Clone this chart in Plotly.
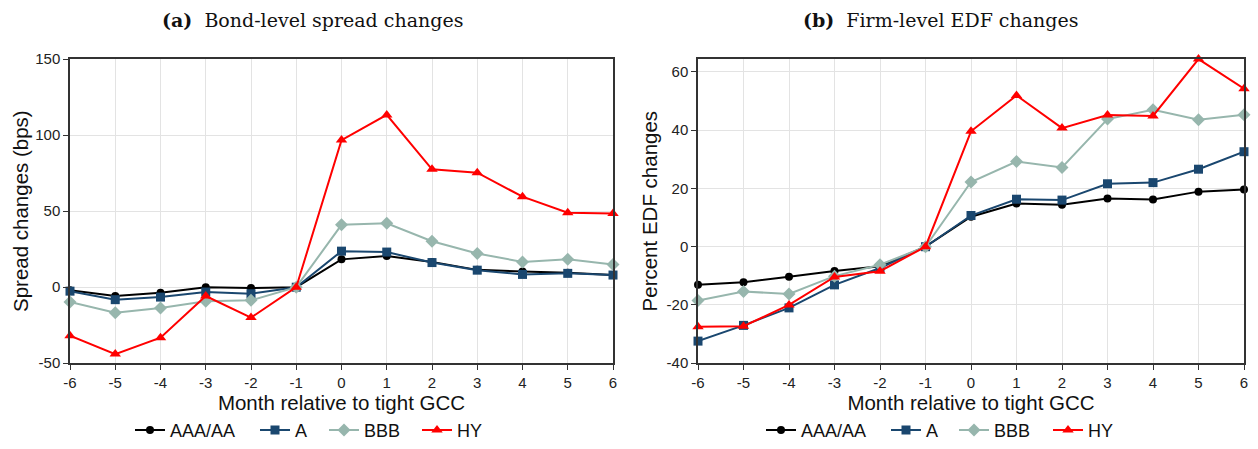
import plotly.graph_objects as go

months = [-6, -5, -4, -3, -2, -1, 0, 1, 2, 3, 4, 5, 6]
month_labels = ["-6", "-5", "-4", "-3", "-2", "-1", "0", "1", "2", "3", "4", "5", "6"]

series_names = ["AAA/AA", "A", "BBB", "HY"]

# Panel (a): bond-level spread changes (bps)
spread_aaa = [-2.0, -5.8, -3.7, 0.0, -0.6, 0.0, 18.3, 20.5, 16.6, 11.4, 10.4, 9.5, 8.0]
spread_a = [-2.6, -8.2, -6.5, -3.2, -4.3, 0.0, 23.7, 23.1, 16.2, 11.2, 8.4, 9.1, 8.0]
spread_bbb = [-9.7, -16.8, -13.6, -9.3, -8.6, 0.0, 41.0, 42.0, 30.2, 22.2, 16.6, 18.3, 14.9]
spread_hy = [-31.9, -44.0, -33.2, -5.8, -20.0, 0.0, 96.7, 113.3, 77.5, 75.3, 59.5, 49.0, 48.5]

# Panel (b): firm-level percent EDF changes
edf_aaa = [-13.1, -12.2, -10.3, -8.3, -6.7, 0.0, 10.3, 14.8, 14.4, 16.5, 16.2, 18.9, 19.6]
edf_a = [-32.4, -27.0, -21.0, -13.1, -7.3, 0.0, 10.7, 16.3, 16.0, 21.6, 22.0, 26.6, 32.6]
edf_bbb = [-18.5, -15.4, -16.2, -10.1, -6.2, 0.0, 22.2, 29.2, 27.2, 43.8, 47.0, 43.6, 45.3]
edf_hy = [-27.5, -27.3, -20.0, -10.4, -8.4, 0.0, 39.6, 51.9, 40.7, 45.2, 44.9, 64.4, 54.2]

spread_ticks = [-50, 0, 50, 100, 150]
spread_tick_labels = ["-50", "0", "50", "100", "150"]
edf_ticks = [-40, -20, 0, 20, 40, 60]
edf_tick_labels = ["-40", "-20", "0", "20", "40", "60"]

colors = ["#000000", "#1a476f", "#97b6ad", "#ff0000"]
symbols = ["circle", "square", "diamond", "triangle-up"]
sizes = [8, 9, 10, 10]

W, H = 1258, 449

# legend entry positions (left edge of the legend line, px)
left_legend_px = [136, 261, 330, 423]
right_legend_px = [767, 892, 960, 1054]

fig = go.Figure()

left_data = [spread_aaa, spread_a, spread_bbb, spread_hy]
right_data = [edf_aaa, edf_a, edf_bbb, edf_hy]

legend_font = dict(family="Liberation Sans, Arial, sans-serif", size=18, color="#111111")
legends = {}
for i, name in enumerate(series_names):
    key_l = "legend" if i == 0 else f"legend{i + 1}"
    fig.add_trace(go.Scatter(
        x=months, y=left_data[i], name=name, mode="lines+markers",
        line=dict(color=colors[i], width=2),
        marker=dict(symbol=symbols[i], size=sizes[i], color=colors[i]),
        xaxis="x", yaxis="y", legend=key_l, cliponaxis=False,
    ))
    legends[key_l] = dict(x=(left_legend_px[i] - 6) / W, xanchor="left",
                          y=12 / H, yanchor="middle",
                          font=legend_font, bgcolor="rgba(0,0,0,0)", borderwidth=0)
for i, name in enumerate(series_names):
    key_r = f"legend{i + 5}"
    fig.add_trace(go.Scatter(
        x=months, y=right_data[i], name=name, mode="lines+markers",
        line=dict(color=colors[i], width=2),
        marker=dict(symbol=symbols[i], size=sizes[i], color=colors[i]),
        xaxis="x2", yaxis="y2", legend=key_r, cliponaxis=False,
    ))
    legends[key_r] = dict(x=(right_legend_px[i] - 6) / W, xanchor="left",
                          y=12 / H, yanchor="middle",
                          font=legend_font, bgcolor="rgba(0,0,0,0)", borderwidth=0)

y_dom = [1 - 369 / H, 1 - 60 / H]

axis_font = dict(family="Liberation Sans, Arial, sans-serif", size=15, color="#222222")
title_font = dict(family="Liberation Sans, Arial, sans-serif", size=20.5, color="#111111")

common_x = dict(
    tickvals=months, ticktext=month_labels, range=[-6, 6],
    showgrid=True, gridcolor="#e3e3e3", gridwidth=1,
    showline=True, linecolor="#333333", linewidth=1.5, mirror=True,
    ticks="outside", ticklen=5, tickcolor="#333333",
    tickfont=axis_font, zeroline=False, automargin=False,
    title=dict(text="Month relative to tight GCC", font=title_font, standoff=6),
)
common_y = dict(
    showgrid=True, gridcolor="#e3e3e3", gridwidth=1,
    showline=True, linecolor="#333333", linewidth=1.5, mirror=True,
    ticks="outside", ticklen=5, tickcolor="#333333",
    tickfont=axis_font, zeroline=False, automargin=False,
)

fig.update_layout(
    width=W, height=H,
    margin=dict(l=0, r=0, t=0, b=0, pad=0),
    paper_bgcolor="white", plot_bgcolor="white",
    showlegend=True,
    xaxis=dict(domain=[70 / W, 613 / W], anchor="y", **common_x),
    yaxis=dict(domain=y_dom, anchor="x", range=[-50, 150],
               tickvals=spread_ticks, ticktext=spread_tick_labels,
               title=dict(text="Spread changes (bps)", font=title_font, standoff=1),
               **common_y),
    xaxis2=dict(domain=[698 / W, 1244 / W], anchor="y2", **common_x),
    yaxis2=dict(domain=y_dom, anchor="x2", range=[-40, 64.4],
                tickvals=edf_ticks, ticktext=edf_tick_labels,
                title=dict(text="Percent EDF changes", font=title_font, standoff=3),
                **common_y),
    annotations=[
        dict(text="<b>(a)</b>  Bond-level spread changes", x=312 / W, y=1 - 20 / H,
             xref="paper", yref="paper", showarrow=False, xanchor="center", yanchor="middle",
             font=dict(family="DejaVu Serif, serif", size=19, color="#111111")),
        dict(text="<b>(b)</b>  Firm-level EDF changes", x=940 / W, y=1 - 20 / H,
             xref="paper", yref="paper", showarrow=False, xanchor="center", yanchor="middle",
             font=dict(family="DejaVu Serif, serif", size=19, color="#111111")),
    ],
    **legends,
)

fig.write_html("out.html")
